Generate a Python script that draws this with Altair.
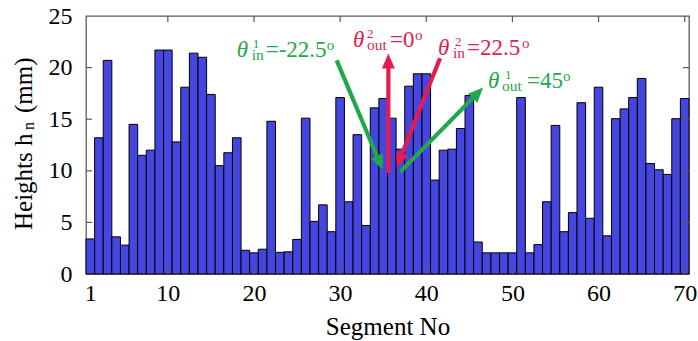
import math
import altair as alt
import pandas as pd

# ---------------- data ----------------
segments = list(range(1, 71))
heights = [3.4, 13.2, 20.7, 3.6, 2.8, 14.5, 11.5, 12.0, 21.7, 21.7,
           12.8, 18.1, 21.4, 21.0, 17.4, 10.5, 11.75, 13.2, 2.3, 2.05,
           2.4, 14.8, 2.1, 2.15, 3.35, 15.1, 5.1, 6.7, 4.1, 17.1,
           7.0, 13.5, 4.7, 16.1, 17.0, 15.1, 12.1, 18.2, 19.4, 19.4,
           9.1, 12.0, 12.1, 14.1, 17.3, 3.1, 2.05, 2.05, 2.05, 2.05,
           17.1, 2.05, 2.85, 7.0, 14.4, 4.1, 5.95, 16.6, 5.4, 18.1,
           3.7, 15.05, 16.0, 17.1, 18.95, 10.7, 10.1, 9.65, 15.05, 17.0]

x_tick_labels = [1, 10, 20, 30, 40, 50, 60, 70]
x_tick_marks = [10, 20, 30, 40, 50, 60, 70]
y_tick_labels = [0, 5, 10, 15, 20, 25]
y_tick_marks = [5, 10, 15, 20]

GREEN = "#22A84C"
RED = "#E31D4F"

# arrows (data coordinates)
arrow_color = [GREEN, RED, RED, GREEN]
arrow_tail_x = [29.6, 35.6, 41.6, 36.95]
arrow_tail_y = [20.7, 9.77, 20.9, 9.87]
arrow_tip_x = [34.94, 35.6, 36.57, 46.6]
arrow_tip_y = [10.1, 21.36, 10.35, 18.06]

# labels
label_color = [GREEN, RED, RED, GREEN]
label_x = [17.99, 31.5, 41.36, 47.17]
label_y = [21.06, 22.04, 21.22, 18.02]
label_sup = ["1", "2", "2", "1"]
label_sub = ["in", "out", "in", "out"]
label_rest = ["=-22.5", "=0", "=22.5", "=45"]
label_deg = ["o", "o", "o", "o"]

# ---------------- layout ----------------
W, H = 603, 258
X0, X1 = 0.5, 70.5
Y0, Y1 = 0, 25
PX = W / (X1 - X0)
PY = H / (Y1 - Y0)
FONT = "Liberation Serif"
FRAME = "#5a5a5a"
BAR = "#4545DF"

# pixel offsets of label parts from the theta
sup_off = [16, 14, 17, 17]
sub_off = [15, 14, 15, 14]
rest_off = [29, 37, 29, 39]
deg_off = [90, 62, 84, 75]

xs = alt.Scale(domain=[X0, X1], nice=False, zero=False)
ys = alt.Scale(domain=[Y0, Y1], nice=False)

bars_df = pd.DataFrame({"seg": segments, "h": heights})
bars = alt.Chart(bars_df).transform_calculate(
    x0="datum.seg - 0.5", x1="datum.seg + 0.5"
).mark_bar(color=BAR, stroke="black", strokeWidth=1).encode(
    x=alt.X("x0:Q", scale=xs, axis=alt.Axis(
        values=x_tick_labels, ticks=False, tickSize=0, domain=False, grid=False,
        labelFont=FONT, labelFontSize=24, labelColor="black", labelPadding=7,
        labelOverlap=False, labelFlush=False,
        title="Segment No", titleFont=FONT, titleFontSize=25, titleFontWeight="normal",
        titleColor="black", titleBaseline="alphabetic", titleY=60)),
    x2="x1:Q",
    y=alt.Y("h:Q", scale=ys, axis=alt.Axis(
        values=y_tick_labels, ticks=False, tickSize=0, domain=False, grid=False,
        labelFont=FONT, labelFontSize=24, labelColor="black", labelPadding=14,
        labelOverlap=False, labelFlush=False, title=None)),
    y2=alt.datum(0),
)

xt_df = pd.DataFrame({"v": x_tick_marks})
yt_df = pd.DataFrame({"v": y_tick_marks})
tick_kw = dict(color=FRAME, strokeWidth=1.2)
xt_bot = alt.Chart(xt_df).mark_rule(**tick_kw).encode(
    x=alt.X("v:Q", scale=xs, axis=None), y=alt.value(H), y2=alt.value(H - 6))
xt_top = alt.Chart(xt_df).mark_rule(**tick_kw).encode(
    x=alt.X("v:Q", scale=xs, axis=None), y=alt.value(0), y2=alt.value(6))
yt_left = alt.Chart(yt_df).mark_rule(**tick_kw).encode(
    y=alt.Y("v:Q", scale=ys, axis=None), x=alt.value(0), x2=alt.value(6))
yt_right = alt.Chart(yt_df).mark_rule(**tick_kw).encode(
    y=alt.Y("v:Q", scale=ys, axis=None), x=alt.value(W), x2=alt.value(W - 6))

# arrows: shaft ends a bit before the tip, head rotated along the shaft
rows = []
for c, tx, ty, hx, hy in zip(arrow_color, arrow_tail_x, arrow_tail_y, arrow_tip_x, arrow_tip_y):
    dxp = (hx - tx) * PX
    dyp = -(hy - ty) * PY  # screen direction (down positive)
    L = math.hypot(dxp, dyp)
    back = 9.0
    ex = hx - (dxp / L) * back / PX
    ey = hy + (dyp / L) * back / PY
    ang = math.degrees(math.atan2(dxp, -dyp)) % 360
    rows.append(dict(c=c, tx=tx, ty=ty, ex=ex, ey=ey, hx=hx, hy=hy, ang=ang))
arr_df = pd.DataFrame(rows)

shafts = alt.Chart(arr_df).mark_rule(strokeWidth=4.2, strokeCap="butt").encode(
    x=alt.X("tx:Q", scale=xs, axis=None), y=alt.Y("ty:Q", scale=ys, axis=None),
    x2="ex:Q", y2="ey:Q", color=alt.Color("c:N", scale=None))
heads = alt.Chart(arr_df).mark_point(
    shape="M0,0L-1,2.3L1,2.3Z", filled=True, size=169, opacity=1, strokeWidth=0
).encode(
    x=alt.X("hx:Q", scale=xs, axis=None), y=alt.Y("hy:Q", scale=ys, axis=None),
    angle=alt.Angle("ang:Q", scale=None), color=alt.Color("c:N", scale=None))

# labels
def piece(texts, offs, dy, size, italic=False):
    df = pd.DataFrame({
        "t": texts,
        "x": [lx + o / PX for lx, o in zip(label_x, offs)],
        "y": label_y,
        "c": label_color,
    })
    kw = dict(align="left", baseline="alphabetic", font=FONT, fontSize=size, dy=dy)
    if italic:
        kw["fontStyle"] = "italic"
    return alt.Chart(df).mark_text(**kw).encode(
        x=alt.X("x:Q", scale=xs, axis=None), y=alt.Y("y:Q", scale=ys, axis=None),
        text="t:N", color=alt.Color("c:N", scale=None))

lab_theta = piece(["θ"] * 4, [0, 0, 0, 0], 0, 23, italic=True)
lab_sup = piece(label_sup, sup_off, -9, 13)
lab_sub = piece(label_sub, sub_off, 3, 15.5)
lab_rest = piece(label_rest, rest_off, 0, 23)
lab_deg = piece(label_deg, deg_off, -7, 15)

# y-axis title with subscript
def ytitle(text, dx, dy, size):
    return alt.Chart(pd.DataFrame({"t": [text]})).mark_text(
        align="left", baseline="alphabetic", font=FONT, fontSize=size,
        angle=270, dx=dx, dy=dy, color="black"
    ).encode(x=alt.value(-54.3), y=alt.value(214), text="t:N")

yt1 = ytitle("Heights h", 0, 0, 25)
yt2 = ytitle("n", 100, 2, 16)
yt3 = ytitle("(mm)", 117, 0, 25)

chart = alt.layer(
    bars, xt_bot, xt_top, yt_left, yt_right,
    shafts, heads,
    lab_theta, lab_sup, lab_sub, lab_rest, lab_deg,
    yt1, yt2, yt3,
).resolve_axis(x="independent", y="independent").properties(
    width=W, height=H,
    autosize=alt.AutoSizeParams(type="none"),
    padding={"left": 86, "top": 16, "right": 9, "bottom": 67},
    background="white",
).configure_view(stroke=FRAME, strokeWidth=1.3)

chart.save("out.html", embed_options={"renderer": "svg", "actions": False})
